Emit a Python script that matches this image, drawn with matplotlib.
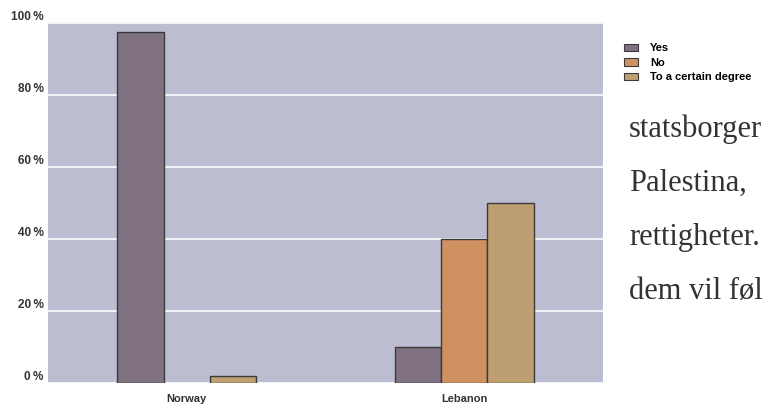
import matplotlib.pyplot as plt
import numpy as np
from matplotlib.patches import Patch

# values (percent)
countries = ["Norway", "Lebanon"]
series = ["Yes", "No", "To a certain degree"]
yes_vals = [97.5, 10]
no_vals = [0, 40]
degree_vals = [2, 50]
colors = ["#7f7180", "#d09162", "#be9f71"]
yticks = [0, 20, 40, 60, 80, 100]
side_text = ["statsborger", "Palestina,", "rettigheter.", "dem vil føl"]

plt.rcParams["font.family"] = ["Liberation Sans", "DejaVu Sans"]

fig = plt.figure(figsize=(7.67, 4.07), dpi=100)
ax = fig.add_axes([48 / 767, 1 - 383 / 407, 555 / 767, 361 / 407])
ax.set_facecolor("#bdbdd2")

x = np.arange(len(countries))
w = 1 / 6
for i, vals in enumerate([yes_vals, no_vals, degree_vals]):
    vals = np.array(vals, dtype=float)
    keep = vals > 0
    ax.bar(x[keep] + (i - 1) * w, vals[keep], width=w, color=colors[i],
           edgecolor="#3a3a3a", linewidth=1.0, zorder=3)

ax.set_xlim(-0.5, 1.5)
ax.set_ylim(0, 100.3)
ax.set_yticks(yticks)
ax.set_yticklabels([f"{t}\u2009%" for t in yticks], fontsize=8.5, fontweight="bold", color="#333333")
ax.set_xticks(x)
ax.set_xticklabels(countries, fontsize=8, fontweight="bold", color="#333333")
ax.tick_params(length=0, pad=3)
ax.tick_params(axis="x", pad=8)
for lab in ax.get_yticklabels():
    lab.set_verticalalignment("bottom")
ax.grid(axis="y", color="white", linewidth=1.2, zorder=1)
for s in ax.spines.values():
    s.set_visible(False)

handles = [Patch(facecolor=c, edgecolor="#3a3a3a", linewidth=0.8) for c in colors]
fig.legend(handles, series, loc="upper left", bbox_to_anchor=(620 / 767, 1 - 39 / 407),
           frameon=False, prop={"size": 8, "weight": "bold"}, handlelength=1.2,
           handleheight=0.7, labelspacing=0.4, handletextpad=1.1, borderaxespad=0)

# paragraph fragment at the right edge of the page
for k, line in enumerate(side_text):
    fig.text(629 / 767, 1 - (137 + 54 * k) / 407, line, family="Liberation Serif",
             fontsize=22, color="#333333", va="baseline", ha="left")

fig.savefig("out.png", dpi=100)
